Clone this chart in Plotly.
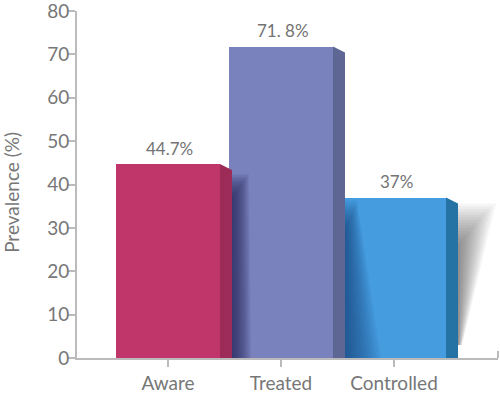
import plotly.graph_objects as go

categories = ["Aware", "Treated", "Controlled"]
values = [44.7, 71.8, 37.0]
value_labels = ["44.7%", "71. 8%", "37%"]
front_colors = ["#C0366A", "#7A82BD", "#459CDF"]
side_colors = ["#9D2B58", "#5E6694", "#2573A5"]
shadow_colors = ["#262C55", "#173F66", "#333333"]
y_ticks = [0, 10, 20, 30, 40, 50, 60, 70, 80]

W, H = 500, 396
ml, mr, mt, mb = 77, 2, 11, 32
xr = [-0.805, 2.92]
yr = [0, 80]
pxx = (W - ml - mr) / (xr[1] - xr[0])   # px per category unit
pxy = (H - mt - mb) / (yr[1] - yr[0])   # px per value unit

bar_w = 0.92
depth = 12 / pxx
drop = 6 / pxy

fig = go.Figure()
fig.add_trace(go.Bar(
    x=list(range(len(categories))), y=values, width=bar_w,
    marker=dict(color=front_colors, line=dict(width=0)),
    hoverinfo="skip", showlegend=False,
))

shapes = []

def wedge(edge, top, bottom, wt, wb, fade, color, n=16, a=0.06):
    """Soft shadow: stacked strips, narrower strips start lower (top fade)."""
    for k in range(1, n + 1):
        f = k / n
        t = top - fade * (1 - f)
        s = (top - t) / (top - bottom) if top != bottom else 0
        wtk = (wt + (wb - wt) * s) * f
        path = (f"M {edge},{t} L {edge + wtk},{t} "
                f"L {edge + wb * f},{bottom} L {edge},{bottom} Z")
        shapes.append(dict(type="path", xref="x", yref="y", path=path,
                           fillcolor=color, opacity=a, line=dict(width=0),
                           layer="above"))

# shadows cast to the right of each bar's side face
# (start offset px, bottom value, top width px, bottom width px, fade px, opacity)
shadow_specs = [
    (4, 0, 17, 19, 24, 0.08),
    (3, 0, 12, 36, 30, 0.055),
    (0, 3, 38, 4, 45, 0.045),
]
for i, v in enumerate(values):
    edge = i + bar_w / 2 + depth
    off, bot, wt, wb, fade, a = shadow_specs[i]
    top = v - drop
    if i + 1 < len(values):
        top = min(top, values[i + 1])
    top -= off / pxy
    wedge(edge, top, bot, wt / pxx, wb / pxx, fade / pxy, shadow_colors[i], a=a)

# side faces
for i, v in enumerate(values):
    x1 = i + bar_w / 2
    path = (f"M {x1},{v} L {x1 + depth},{v - drop} "
            f"L {x1 + depth},0 L {x1},0 Z")
    shapes.append(dict(type="path", xref="x", yref="y", path=path,
                       fillcolor=side_colors[i], line=dict(width=0),
                       layer="above"))

# right end upturn of baseline
shapes.append(dict(type="line", xref="paper", yref="y", x0=1, x1=1,
                   y0=0, y1=7 / pxy, line=dict(color="#BBBBBB", width=2)))

annotations = []
for i, v in enumerate(values):
    annotations.append(dict(x=i, y=v, xref="x", yref="y", text=value_labels[i],
                            showarrow=False, yanchor="middle", yshift=16, xshift=2,
                            font=dict(family="Lato", size=17, color="#737373")))

# y axis title
annotations.append(dict(text="Prevalence (%)", xref="paper", yref="paper",
                        x=(12 - ml) / (W - ml - mr), y=(H - mb - 196) / (H - mt - mb),
                        xanchor="center", yanchor="middle", textangle=-90,
                        showarrow=False,
                        font=dict(family="Lato", size=19, color="#777777")))

fig.update_layout(
    width=W, height=H,
    margin=dict(l=ml, r=mr, t=mt, b=mb, pad=0),
    paper_bgcolor="white", plot_bgcolor="white",
    shapes=shapes, annotations=annotations,
    bargap=0,
    font=dict(family="Lato", color="#777777"),
    xaxis=dict(range=xr, tickvals=list(range(len(categories))), ticktext=categories,
               showgrid=False, zeroline=False, showline=True, linecolor="#BBBBBB",
               linewidth=2, ticks="outside", ticklen=7, tickcolor="#BBBBBB",
               tickwidth=2, tickfont=dict(family="Lato", size=19, color="#777777"),
               fixedrange=True),
    yaxis=dict(range=yr, tickvals=y_ticks, showgrid=False, zeroline=False,
               showline=True, linecolor="#BBBBBB", linewidth=2, ticks="outside",
               ticklen=7, tickcolor="#BBBBBB", tickwidth=2, ticklabelstandoff=-5,
               ticklabeloverflow="allow",
               tickfont=dict(family="Lato", size=19, color="#777777"),
               automargin=False, fixedrange=True),
)

fig.write_html("out.html", config=dict(displayModeBar=False))
